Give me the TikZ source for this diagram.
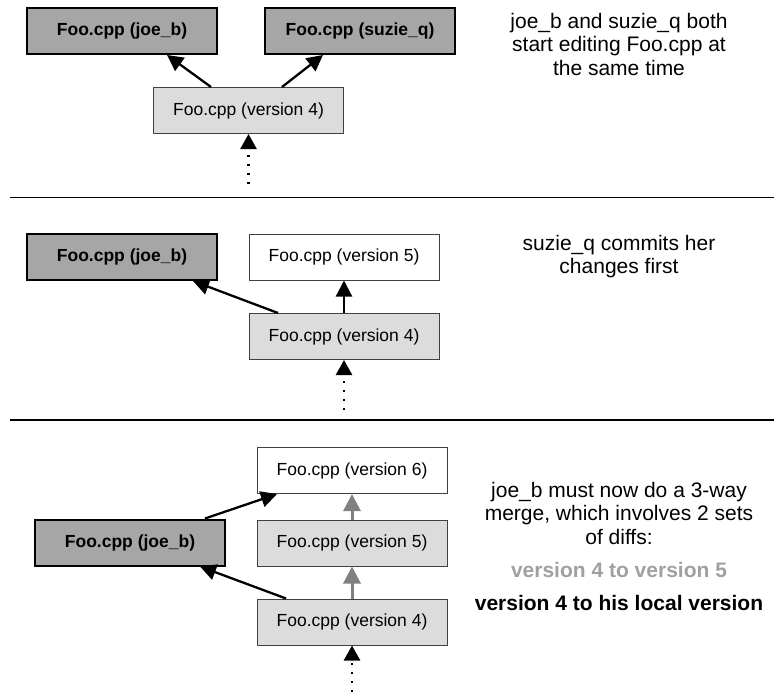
\documentclass[tikz,border=0pt]{standalone}
\usepackage{fontspec}
\setmainfont{Liberation Sans}
\usetikzlibrary{arrows.meta}
\definecolor{darkfill}{HTML}{A6A6A6}
\definecolor{lightfill}{HTML}{DCDCDC}
\definecolor{grayarrow}{HTML}{808080}
\definecolor{graytext}{HTML}{A0A0A0}
\begin{document}
\begin{tikzpicture}[x=1pt,y=-1pt,
  boxfont/.style={font=\fontsize{17.5}{21}\selectfont},
  darkbox/.style={boxfont,font=\bfseries\fontsize{17.5}{21}\selectfont,draw=black,line width=2pt,fill=darkfill,minimum width=190pt,minimum height=46pt,inner sep=0pt},
  lightbox/.style={boxfont,draw=black!75,line width=1pt,fill=lightfill,minimum width=190pt,minimum height=46pt,inner sep=0pt},
  whitebox/.style={lightbox,fill=white},
  arr/.style={line width=2.3pt,-{Triangle[width=16pt,length=16pt]}},
  grayarr/.style={line width=3pt,draw=grayarrow,-{Triangle[width=17pt,length=17pt]},grayarrow},
  dotarr/.style={line width=2.5pt,dash pattern=on 2pt off 7pt,-{Triangle[width=16pt,length=15pt]}},
  sep/.style={line width=1.5pt,black},
  note/.style={align=center,font=\fontsize{21}{23.5}\selectfont},
]
\useasboundingbox (0,0) rectangle (774,694);

% ---------- panel 1 ----------
\node[darkbox] (joe1) at (122,31) {Foo.cpp (joe\_b)};
\node[darkbox] (suz1) at (360,31) {Foo.cpp (suzie\_q)};
\node[lightbox] (v41) at (248.5,110.5) {Foo.cpp (version 4)};
\coordinate (d1) at (248.5,184);
\draw[arr] ([xshift=-37.5pt]v41.north) -- ([xshift=45pt]joe1.south);
\draw[arr] ([xshift=33.5pt]v41.north) -- ([xshift=-37pt]suz1.south);
\draw[dotarr] (d1) -- (v41.south);
\node[note] (t1) at (619,44) {joe\_b and suzie\_q both\\start editing Foo.cpp at\\the same time};
\coordinate (s1a) at (10,197.5);
\coordinate (s1b) at (774,197.5);
\draw[sep] (s1a) -- (s1b);

% ---------- panel 2 ----------
\node[darkbox] (joe2) at (122,257) {Foo.cpp (joe\_b)};
\node[whitebox] (v52) at (344,257) {Foo.cpp (version 5)};
\node[lightbox] (v42) at (344,336.5) {Foo.cpp (version 4)};
\coordinate (d2) at (344,410);
\draw[arr] ([xshift=-66pt]v42.north) -- ([xshift=71pt]joe2.south);
\draw[arr] (v42.north) -- (v52.south);
\draw[dotarr] (d2) -- (v42.south);
\node[note] (t2) at (619,256.5) {suzie\_q commits her\\changes first};
\coordinate (s2a) at (10,420);
\coordinate (s2b) at (774,420);
\draw[sep] (s2a) -- (s2b);

% ---------- panel 3 ----------
\node[whitebox] (v63) at (352,470.5) {Foo.cpp (version 6)};
\node[lightbox] (v53) at (352,543) {Foo.cpp (version 5)};
\node[lightbox] (v43) at (352,622) {Foo.cpp (version 4)};
\node[darkbox] (joe3) at (130,542.5) {Foo.cpp (joe\_b)};
\coordinate (d3) at (352,692);
\draw[arr] ([xshift=75pt]joe3.north) -- ([xshift=-75pt]v63.south);
\draw[arr] ([xshift=-66pt]v43.north) -- ([xshift=70pt]joe3.south);
\draw[grayarr] (v43.north) -- (v53.south);
\draw[grayarr] (v53.north) -- (v63.south);
\draw[dotarr] (d3) -- (v43.south);
\node[note] (t3) at (619,513) {joe\_b must now do a 3-way\\merge, which involves 2 sets\\of diffs:};
\node[note,font=\bfseries\fontsize{21}{23.5}\selectfont,text=graytext] (t4) at (619,570) {version 4 to version 5};
\node[note,font=\bfseries\fontsize{21}{23.5}\selectfont] (t5) at (619,603) {version 4 to his local version};
\end{tikzpicture}
\end{document}
